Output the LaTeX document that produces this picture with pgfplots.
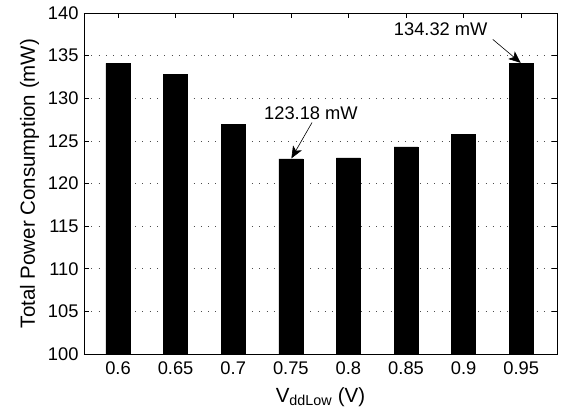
\documentclass[border=0pt]{standalone}
\usepackage{fontspec}
\setmainfont{Liberation Sans}
\usepackage{pgfplots}
\pgfplotsset{compat=1.18}
\usetikzlibrary{arrows.meta}
\newcommand{\tickfont}{\fontsize{18.3}{21}\selectfont}
\newcommand{\labelfont}{\fontsize{20.5}{24}\selectfont}
\begin{document}
\begin{tikzpicture}[x=1pt,y=1pt]
\path[use as bounding box] (0,0) rectangle (562,416);
\begin{axis}[
  at={(84pt,62pt)}, anchor=south west,
  scale only axis, width=473pt, height=341pt,
  ybar, bar width=24pt,
  xmin=0.5705, xmax=0.981, ymin=100, ymax=140,
  xtick={0.6,0.65,0.7,0.75,0.8,0.85,0.9,0.95},
  xticklabels={0.6,0.65,0.7,0.75,0.8,0.85,0.9,0.95},
  ytick={100,105,110,115,120,125,130,135,140},
  ymajorgrids,
  grid style={black!70, line width=0.6pt, dash pattern=on 0.8pt off 6.5pt},
  tick align=inside, major tick length=5pt,
  tick style={black, line width=0.6pt},
  axis line style={line width=0.8pt},
  ticklabel style={font=\tickfont},
  xticklabel style={yshift=-4pt},
  yticklabel style={xshift=-2pt},
  /pgf/number format/assume math mode=true,
  label style={font=\labelfont},
  xlabel={V\textsubscript{ddLow} (V)},
  ylabel={Total Power Consumption (mW)},
  xlabel style={at={(axis description cs:0.5,0)}, anchor=base, yshift=-48pt},
  ylabel style={at={([xshift=-49pt]axis description cs:0,0.5)}, anchor=base},
]
% bar heights
\addplot[fill=black, draw=black] coordinates {
  (0.6,134.1) (0.65,132.8) (0.7,126.9) (0.75,122.9)
  (0.8,123.0) (0.85,124.3) (0.9,125.8) (0.95,134.1)};
% annotations
\draw[-{Stealth[length=12pt,width=10pt,inset=3pt]}, line width=0.6pt]
  (axis cs:0.7684,127.15) -- (axis cs:0.7505,122.95);
\node[font=\tickfont] at (axis cs:0.7675,128.3) {123.18 mW};
\draw[-{Stealth[length=12pt,width=10pt,inset=3pt]}, line width=0.6pt]
  (axis cs:0.9253,136.9) -- (axis cs:0.9495,134.15);
\node[font=\tickfont] at (axis cs:0.8801,138.1) {134.32 mW};
\end{axis}
\end{tikzpicture}
\end{document}
